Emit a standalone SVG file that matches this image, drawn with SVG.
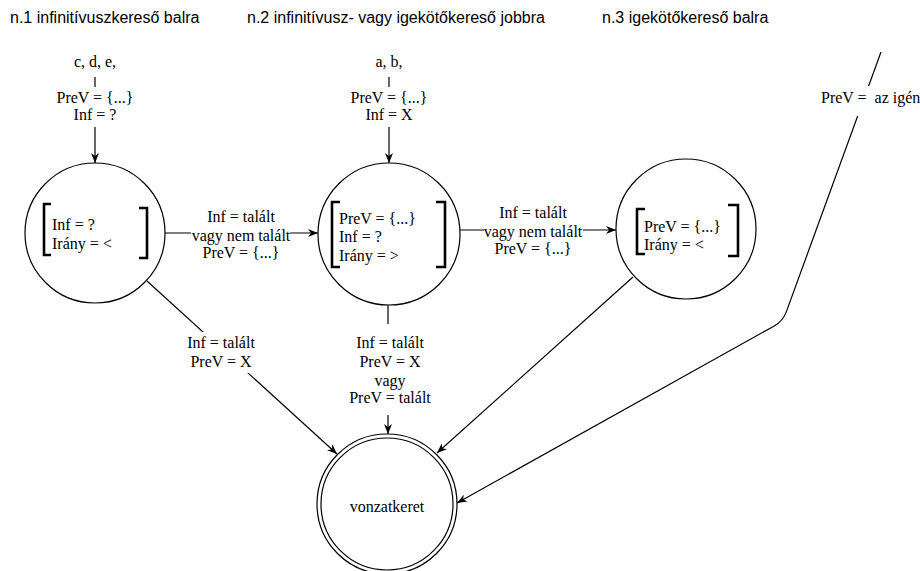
<svg xmlns="http://www.w3.org/2000/svg" width="920" height="571" viewBox="0 0 920 571">
<style>
.hd{font-family:"Liberation Sans",Arial,sans-serif;font-size:16px;fill:#000}
.t{font-family:"Liberation Serif","Times New Roman",serif;font-size:16px;fill:#000;white-space:pre}
.c{text-anchor:middle}
.node{fill:#fff;stroke:#000;stroke-width:1.2}
.br{fill:none;stroke:#000;stroke-width:2.6}
.ln{fill:none;stroke:#000;stroke-width:1.2}
.bg{fill:#fff;stroke:none}
</style>
<defs>
<marker id="arr" viewBox="0 0 10 8" refX="10" refY="4" markerWidth="10" markerHeight="8" markerUnits="userSpaceOnUse" orient="auto">
<path d="M0,0 L10,4 L0,8 L3,4 z" fill="#000"/>
</marker>
</defs>
<rect width="920" height="571" fill="#fff"/>

<g id="headers">
<text class="hd" x="10" y="23">n.1 infinitívuszkereső balra</text>
<text class="hd" x="247" y="23">n.2 infinitívusz- vagy igekötőkereső jobbra</text>
<text class="hd" x="602" y="23">n.3 igekötőkereső balra</text>
</g>

<g id="connectors">
<line class="ln" x1="95" y1="77" x2="95" y2="87"/>
<line class="ln" x1="389" y1="77" x2="389" y2="87"/>
<line class="ln" x1="95" y1="127" x2="95" y2="163" marker-end="url(#arr)"/>
<line class="ln" x1="389" y1="127" x2="389" y2="163" marker-end="url(#arr)"/>
<line class="ln" x1="165" y1="233" x2="318" y2="233" marker-end="url(#arr)"/>
<line class="ln" x1="460" y1="230" x2="616" y2="230" marker-end="url(#arr)"/>
<line class="ln" x1="147" y1="281" x2="337" y2="454" marker-end="url(#arr)"/>
<line class="ln" x1="388" y1="305" x2="388" y2="434" marker-end="url(#arr)"/>
<line class="ln" x1="633" y1="277" x2="437" y2="453" marker-end="url(#arr)"/>
<path class="ln" d="M881,52 L786.4,311.6 Q783,321 774.3,325.9 L457,503" marker-end="url(#arr)"/>
</g>

<g id="label-top1">
<text class="t c" x="95" y="67">c, d, e,</text>
<text class="t c" x="95" y="103">PreV = {...}</text>
<text class="t c" x="95" y="120">Inf = ?</text>
</g>
<g id="label-top2">
<text class="t c" x="389" y="67">a, b,</text>
<text class="t c" x="389" y="103">PreV = {...}</text>
<text class="t c" x="389" y="120">Inf = X</text>
</g>

<g id="label-e12">
<rect class="bg" x="191" y="206" width="99" height="55"/>
<text class="t c" x="241" y="222">Inf = talált</text>
<text class="t c" x="241" y="241">vagy nem talált</text>
<text class="t c" x="241" y="258">PreV = {...}</text>
</g>
<g id="label-e23">
<rect class="bg" x="484" y="202" width="99" height="55"/>
<text class="t c" x="533" y="218">Inf = talált</text>
<text class="t c" x="533" y="237">vagy nem talált</text>
<text class="t c" x="533" y="254">PreV = {...}</text>
</g>
<g id="label-e1f">
<rect class="bg" x="186" y="332" width="72" height="41"/>
<text class="t c" x="221" y="348">Inf = talált</text>
<text class="t c" x="221" y="367">PreV = X</text>
</g>
<g id="label-e2f">
<rect class="bg" x="348" y="324" width="86" height="91"/>
<text class="t c" x="390" y="348">Inf = talált</text>
<text class="t c" x="390" y="367">PreV = X</text>
<text class="t c" x="390" y="386">vagy</text>
<text class="t c" x="390" y="403">PreV = talált</text>
</g>
<g id="label-etr">
<rect class="bg" x="818" y="86" width="102" height="30"/>
<text class="t" x="821" y="103">PreV =  az igén</text>
</g>

<g id="n1">
<circle class="node" cx="95" cy="233" r="70"/>
<path class="br" d="M51,204 H44 V255 H51"/>
<path class="br" d="M139,208 H147 V258 H139"/>
<text class="t" x="52" y="230">Inf = ?</text>
<text class="t" x="52" y="249">Irány = &lt;</text>
</g>

<g id="n2">
<circle class="node" cx="389" cy="234" r="71"/>
<path class="br" d="M340,202 H332 V267 H340"/>
<path class="br" d="M436,202 H445 V267 H436"/>
<text class="t" x="339" y="224">PreV = {...}</text>
<text class="t" x="339" y="242">Inf = ?</text>
<text class="t" x="339" y="261">Irány = &gt;</text>
</g>

<g id="n3">
<circle class="node" cx="686" cy="229" r="70"/>
<path class="br" d="M645,209 H637 V254 H645"/>
<path class="br" d="M728,205 H738 V256 H728"/>
<text class="t" x="644" y="232">PreV = {...}</text>
<text class="t" x="644" y="250">Irány = &lt;</text>
</g>

<g id="final">
<circle class="node" cx="387" cy="504" r="70"/>
<circle class="node" cx="387" cy="504" r="66"/>
<text class="t c" x="387" y="512">vonzatkeret</text>
</g>
</svg>
